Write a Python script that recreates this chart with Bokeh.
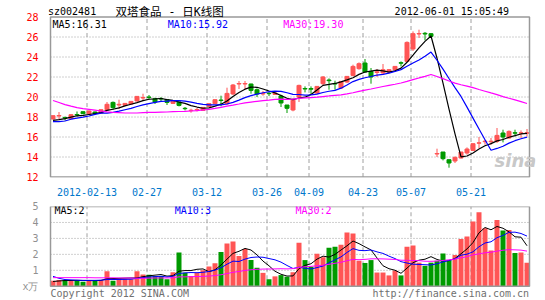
from bokeh.plotting import figure
from bokeh.layouts import column
from bokeh.models import ColumnDataSource, Range1d, FixedTicker, Label
from bokeh.embed import file_html
from bokeh.resources import INLINE

# ---------------- data ----------------
open_ = [17.80, 18.10, 17.95, 17.83, 18.25, 18.53, 18.33, 18.50, 18.40, 18.73,
         19.46, 19.20, 19.16, 19.30, 19.60, 19.90, 20.00, 19.83, 19.85, 19.73,
         19.36, 19.50, 18.87, 18.63, 18.70, 18.66, 19.06, 19.33, 19.70, 19.33,
         20.30, 21.30, 21.30, 21.30, 20.73, 20.30, 20.37, 20.26, 20.10, 19.20,
         18.70, 20.00, 20.85, 20.85, 20.40, 21.33, 21.70, 21.35, 20.90, 21.50,
         22.16, 22.83, 23.40, 22.56, 22.45, 22.40, 22.50, 22.73, 23.43, 23.56,
         24.80, 26.30, 26.37, 26.33, 14.30, 14.50, 13.73, 13.60, 13.90, 14.40,
         14.66, 15.38, 15.53, 15.53, 15.56, 16.40, 15.90, 16.43, 16.38, 16.38]
high = [18.15, 18.50, 18.05, 18.30, 18.55, 18.55, 18.65, 18.55, 18.75, 19.50,
        19.55, 19.73, 19.40, 19.60, 20.10, 20.33, 20.20, 19.93, 20.00, 19.73,
        19.60, 19.56, 19.00, 18.83, 18.90, 19.00, 19.36, 19.76, 20.13, 20.93,
        21.30, 21.60, 21.60, 21.33, 20.86, 20.60, 20.53, 20.45, 20.23, 19.20,
        19.90, 21.23, 21.06, 21.06, 21.10, 22.10, 21.86, 21.63, 21.60, 22.10,
        23.23, 23.46, 23.80, 22.90, 22.80, 23.30, 22.80, 23.10, 23.56, 25.56,
        26.56, 26.73, 26.50, 26.40, 14.83, 14.50, 13.73, 14.06, 14.50, 14.96,
        15.35, 16.00, 15.73, 15.90, 16.90, 16.73, 16.66, 16.73, 16.66, 16.80]
low = [17.75, 17.75, 17.65, 17.80, 18.05, 18.30, 18.30, 18.30, 18.35, 18.70,
       18.73, 18.80, 19.10, 19.25, 19.55, 19.60, 19.73, 19.30, 19.60, 19.20,
       19.30, 19.06, 18.66, 18.43, 18.56, 18.60, 19.00, 19.30, 19.06, 19.23,
       20.20, 20.80, 20.73, 20.33, 20.00, 20.13, 20.10, 20.20, 19.00, 18.40,
       18.57, 19.50, 20.46, 20.33, 20.30, 21.20, 20.73, 20.73, 20.80, 21.40,
       22.06, 22.73, 22.40, 21.33, 22.00, 22.23, 22.40, 22.60, 23.06, 23.50,
       24.60, 25.90, 25.66, 25.90, 14.00, 13.66, 12.93, 13.40, 13.85, 14.23,
       14.60, 14.90, 15.23, 15.23, 15.40, 15.46, 15.83, 16.06, 15.90, 16.06]
close = [18.13, 18.15, 17.90, 18.23, 18.20, 18.33, 18.60, 18.35, 18.73, 19.27,
         18.93, 19.27, 19.36, 19.56, 20.06, 19.95, 19.95, 19.50, 19.80, 19.46,
         19.56, 19.16, 18.83, 18.68, 18.75, 18.96, 19.33, 19.73, 19.65, 20.36,
         21.20, 21.35, 21.35, 20.66, 20.30, 20.35, 20.33, 20.40, 19.40, 18.87,
         19.68, 21.16, 20.80, 20.78, 21.06, 22.00, 21.63, 21.30, 21.56, 22.06,
         23.06, 23.33, 22.50, 22.00, 22.52, 22.73, 22.73, 23.06, 23.38, 25.46,
         26.33, 26.35, 26.30, 26.06, 14.35, 13.83, 13.40, 13.96, 14.50, 14.80,
         15.33, 15.42, 15.58, 15.58, 16.16, 16.00, 16.56, 16.38, 16.42, 16.42]
volume = [0.34, 0.40, 0.38, 0.34, 0.40, 0.28, 0.38, 0.38, 0.38, 0.94,
          0.34, 0.44, 0.44, 0.44, 0.94, 0.74, 0.72, 0.64, 0.64, 0.44,
          0.88, 2.12, 0.84, 0.64, 0.84, 1.00, 1.24, 1.44, 2.14, 2.68,
          2.80, 1.90, 2.34, 1.64, 1.16, 0.84, 0.44, 0.62, 0.70, 0.60,
          0.88, 2.72, 1.64, 1.22, 2.04, 1.82, 2.42, 2.48, 2.60, 3.37,
          3.31, 1.60, 1.46, 1.64, 0.86, 0.86, 0.68, 0.98, 0.68, 2.48,
          2.56, 1.48, 1.28, 1.48, 1.60, 2.06, 1.60, 1.96, 2.96, 3.12,
          4.06, 4.64, 3.64, 2.24, 4.16, 3.50, 3.52, 2.08, 2.12, 1.48]
volume_up = [1, 1, 0, 1, 0, 0, 1, 0, 1, 1,
             0, 1, 1, 1, 1, 1, 0, 0, 0, 0,
             1, 0, 0, 1, 1, 1, 1, 1, 0, 1,
             1, 1, 1, 0, 0, 1, 0, 1, 0, 0,
             1, 1, 0, 0, 1, 1, 0, 0, 1, 1,
             1, 1, 0, 0, 1, 1, 1, 1, 0, 1,
             1, 1, 0, 0, 0, 0, 0, 1, 1, 1,
             1, 1, 1, 1, 1, 0, 1, 0, 1, 1]

# moving-average values before enough in-window days exist
ma5_head = [17.66, 17.73, 17.83, 17.98]
ma10_head = [17.53, 17.53, 17.60, 17.78, 17.88, 17.98, 18.10, 18.27, 18.38]
ma30_head = [19.65, 19.45, 19.24, 19.08, 18.93, 18.83, 18.76, 18.68, 18.60, 18.52,
             18.46, 18.43, 18.40, 18.40, 18.40, 18.43, 18.46, 18.46, 18.48, 18.50,
             18.53, 18.55, 18.57, 18.60, 18.63, 18.70, 18.76, 18.86, 18.97]
vma5_head = [0.30, 0.33, 0.36, 0.36]
vma10_head = [0.62, 0.50, 0.42, 0.40, 0.38, 0.37, 0.37, 0.37, 0.38]
vma30_head = [0.54, 0.54, 0.54, 0.54, 0.54, 0.54, 0.54, 0.53, 0.53, 0.53,
              0.53, 0.52, 0.52, 0.52, 0.50, 0.50, 0.51, 0.52, 0.52, 0.52,
              0.53, 0.59, 0.59, 0.60, 0.61, 0.62, 0.64, 0.67, 0.72]

date_labels = ["2012-02-13", "02-27", "03-12", "03-26", "04-09", "04-23", "05-07", "05-21"]
date_index = [6, 16, 26, 36, 43, 52, 60, 70]
price_ticks = [12, 14, 16, 18, 20, 22, 24, 26, 28]
volume_ticks = [0, 1, 2, 3, 4, 5]
volume_unit = "x万"

code = "sz002481"
title = "双塔食品 - 日K线图"
stamp = "2012-06-01 15:05:49"
ma_price_text = ["MA5:16.31", "MA10:15.92", "MA30:19.30"]
ma_volume_text = ["MA5:2", "MA10:3", "MA30:2"]
copyright_text = "Copyright 2012 SINA.COM"
url_text = "http://finance.sina.com.cn"
logo_text = "sina"


def moving(series, n, head):
    out = list(head)
    for i in range(len(head), len(series)):
        out.append(sum(series[i - n + 1:i + 1]) / n)
    return out


# ---------------- styling ----------------
MONO = "DejaVu Sans Mono"
TITLE_FONT = "DejaVu Sans Mono, Noto Sans CJK SC"
RED = "#ff5555"
GREEN = "#009a00"
MA_COLORS = ["#000000", "#0000ff", "#ff00ff"]
GRID = "#a0a0a0"
BORDER = "#999999"
FS = "10px"

n = len(close)
xs = list(range(n))
PX = 6.0                       # pixels per trading day


def px_x(px):                  # page x (pixels) -> data x
    return (px - 52.5) / PX


def py1(py):                   # page y -> price
    return 27.95 - (py - 17) / 10


def py2(py):                   # page y -> volume
    return 5 - (py - 201) / 16.8


x_range = Range1d(px_x(44), px_x(535))
box_l, box_r = px_x(50), px_x(529)
grid_x = [i - 1 / 3 for i in date_index]
overrides = {g: t for g, t in zip(grid_x, date_labels)}


def lab(p, text, x, y, color="#000000", align="left", font=MONO, size=FS, style="normal"):
    p.add_layout(Label(x=x, y=y, text=text, text_color=color, text_align=align,
                       text_baseline="middle", text_font=font, text_font_size=size,
                       text_font_style=style))


def style_yaxis(ax, ticks, color):
    ax.ticker = FixedTicker(ticks=ticks)
    ax.axis_line_color = None
    ax.major_tick_line_color = None
    ax.minor_tick_line_color = None
    ax.major_label_standoff = 0
    ax.major_label_text_color = color
    ax.major_label_text_font = MONO
    ax.major_label_text_font_size = FS


def panel_grid(p, ylo, yhi, yticks):
    p.segment(x0=box_l, x1=box_r, y0=yticks, y1=yticks, line_color=GRID,
              line_width=1, line_dash="1 2")
    p.segment(x0=grid_x, x1=grid_x, y0=ylo, y1=yhi, line_color=GRID,
              line_width=1, line_dash="4 3")


# ---------------- price panel ----------------
p1 = figure(width=545, height=184, x_range=x_range, y_range=Range1d(py1(177), py1(0)),
            output_backend="svg", toolbar_location=None, x_axis_location=None,
            min_border_left=44, min_border_right=10, min_border_top=0, min_border_bottom=7)
p1.outline_line_color = None
p1.grid.visible = False
style_yaxis(p1.yaxis[0], price_ticks, "#ff0000")
panel_grid(p1, price_ticks[0], price_ticks[-1], price_ticks[1:-1])

colors = [RED if c >= o else GREEN for o, c in zip(open_, close)]
src = ColumnDataSource(dict(
    x=xs, h=high, l=low,
    top=[max(o, c) for o, c in zip(open_, close)],
    bot=[min(o, c) for o, c in zip(open_, close)],
    color=colors))
p1.segment(x0="x", y0="l", x1="x", y1="h", line_color="color", line_width=1, source=src)
p1.vbar(x="x", width=4 / PX, top="top", bottom="bot", fill_color="color",
        line_color="color", line_width=1, source=src)

for ma, col in zip([moving(close, 5, ma5_head), moving(close, 10, ma10_head),
                    moving(close, 30, ma30_head)], MA_COLORS):
    p1.line(xs, ma, line_color=col, line_width=1.2)

p1.quad(left=box_l, right=box_r, bottom=price_ticks[0], top=price_ticks[-1],
        fill_color=None, line_color=BORDER, line_width=1.5)

lab(p1, code, px_x(47.5), py1(11))
lab(p1, title, px_x(115), py1(11), font=TITLE_FONT, size="11.5px")
lab(p1, stamp, px_x(508.5), py1(11), align="right")
for t, lx, col in zip(ma_price_text, [52, 167.3, 282.7], MA_COLORS):
    lab(p1, t, px_x(lx), py1(23.7), color=col)
lab(p1, logo_text, px_x(494), py1(160), color="#c8c8c8", font="DejaVu Sans",
    size="18px", style="bold italic")

# ---------------- volume panel ----------------
p2 = figure(width=545, height=116, x_range=x_range, y_range=Range1d(py2(300), py2(201)),
            output_backend="svg", toolbar_location=None, x_axis_location="above",
            min_border_left=44, min_border_right=10, min_border_top=17, min_border_bottom=0)
p2.outline_line_color = None
p2.grid.visible = False

xa = p2.xaxis[0]
xa.ticker = FixedTicker(ticks=grid_x)
xa.major_label_overrides = overrides
xa.axis_line_color = None
xa.major_tick_line_color = None
xa.minor_tick_line_color = None
xa.major_label_standoff = 5
xa.major_label_text_color = "#0077cc"
xa.major_label_text_font = MONO
xa.major_label_text_font_size = FS

ya = p2.yaxis[0]
style_yaxis(ya, volume_ticks, "#909090")
ya.major_label_overrides = {0: volume_unit}

panel_grid(p2, volume_ticks[0], volume_ticks[-1], volume_ticks[1:-1])

vsrc = ColumnDataSource(dict(x=xs, v=volume,
                             color=[RED if u else GREEN for u in volume_up]))
p2.vbar(x="x", width=5 / PX, top="v", bottom=0, fill_color="color", line_color=None, source=vsrc)
for ma, col in zip([moving(volume, 5, vma5_head), moving(volume, 10, vma10_head),
                    moving(volume, 30, vma30_head)], MA_COLORS):
    p2.line(xs, ma, line_color=col, line_width=1)

p2.quad(left=box_l, right=box_r, bottom=volume_ticks[0], top=volume_ticks[-1],
        fill_color=None, line_color=BORDER, line_width=1.5)

for t, lx, col in zip(ma_volume_text, [54, 174.3, 295], MA_COLORS):
    lab(p2, t, px_x(lx), py2(205.7), color=col)
lab(p2, copyright_text, px_x(50), py2(292.3), color="#707070")
lab(p2, url_text, px_x(528.5), py2(292.3), color="#707070", align="right")

layout = column(p1, p2, spacing=0)
open("out.html", "w").write(file_html(layout, INLINE))
